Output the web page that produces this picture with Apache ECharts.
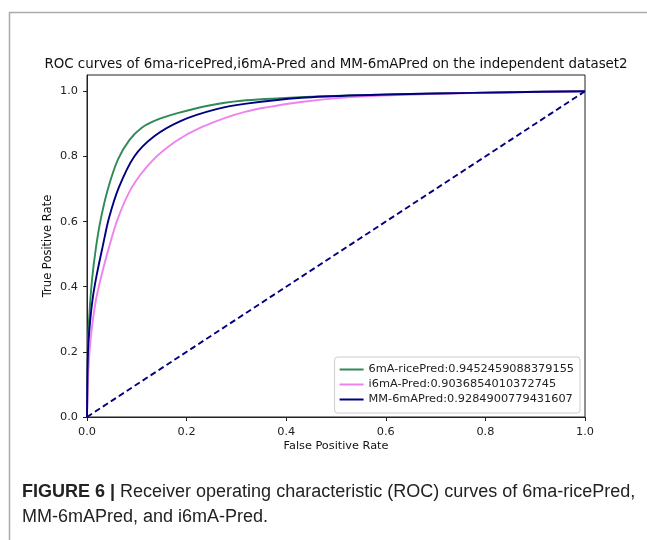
<!DOCTYPE html>
<html lang="en">
<head>
    <meta charset="UTF-8">
    <title>ROC curves</title>
    <script src="https://cdn.jsdelivr.net/npm/echarts@6.0.0/dist/echarts.min.js"></script>
    <style type="text/css">
        *{margin: 0;padding: 0;border: none}
        html,body{width: 100%;height: 100%;overflow: hidden;background: #fff}
        #main{width: 647px;height: 540px}
    </style>
</head>
<body>
<div id="main"></div>
<script type="text/javascript">
    // ROC points [fpr, tpr]
    var ricePred = [[0,0],[0.002,0.22],[0.005,0.32],[0.01,0.42],[0.018,0.52],[0.028,0.61],[0.042,0.7],[0.062,0.79],
        [0.085,0.85],[0.11,0.888],[0.14,0.912],[0.18,0.932],[0.24,0.955],[0.31,0.971],[0.43,0.982],
        [0.55,0.988],[0.7,0.993],[0.85,0.997],[1,1]];
    var i6mAPred = [[0,0],[0.003,0.15],[0.008,0.25],[0.018,0.36],[0.03,0.44],[0.044,0.52],[0.062,0.61],[0.09,0.705],
        [0.13,0.785],[0.177,0.845],[0.23,0.89],[0.317,0.937],[0.43,0.967],[0.53,0.982],[0.7,0.992],[0.85,0.997],[1,1]];
    var mm6mAPred = [[0,0],[0.002,0.2],[0.006,0.29],[0.012,0.37],[0.02,0.44],[0.031,0.52],[0.044,0.61],[0.064,0.705],
        [0.095,0.8],[0.135,0.862],[0.19,0.91],[0.26,0.945],[0.32,0.962],[0.43,0.98],[0.55,0.988],[0.7,0.993],[0.85,0.997],[1,1]];
    var chance = [[0,0],[1,1]];
    var seriesNames = ['6mA-ricePred:0.9452459088379155', 'i6mA-Pred:0.9036854010372745', 'MM-6mAPred:0.9284900779431607'];
    var tickValues = [0, 0.2, 0.4, 0.6, 0.8, 1.0];

    var myChart = echarts.init(document.getElementById('main'));
    var font = 'DejaVu Sans';
    var option = {
        backgroundColor: '#fff',
        animation: false,
        title: {
            text: 'ROC curves of 6ma-ricePred,i6mA-Pred and MM-6mAPred on the independent dataset2',
            left: 331,
            textAlign: 'center',
            top: 53,
            textStyle: {fontFamily: font, fontSize: 13.4, fontWeight: 'normal', color: '#111'}
        },
        legend: {
            orient: 'vertical',
            right: 67,
            top: 357,
            itemWidth: 24,
            itemHeight: 2,
            itemGap: 4,
            padding: [7, 6, 8, 5],
            borderColor: '#ccc',
            borderWidth: 1,
            borderRadius: 3,
            backgroundColor: 'rgba(255,255,255,0.8)',
            icon: 'rect',
            textStyle: {fontFamily: font, fontSize: 11.3, color: '#222'},
            data: seriesNames
        },
        grid: {
            left: 87, right: 62, top: 75, bottom: 123,
            show: true, borderColor: '#222', borderWidth: 1
        },
        xAxis: {
            type: 'value', min: 0, max: 1,
            name: 'False Positive Rate', nameLocation: 'middle', nameGap: 24, nameMoveOverlap: false,
            nameTextStyle: {fontFamily: font, fontSize: 11.3, color: '#111'},
            axisLine: {show: true, lineStyle: {color: '#222'}},
            axisTick: {show: true, length: 4, lineStyle: {color: '#222'}, customValues: tickValues},
            axisLabel: {fontFamily: font, fontSize: 11.3, color: '#222', margin: 10, customValues: tickValues,
                formatter: function (v) { return v.toFixed(1); }},
            splitLine: {show: false}
        },
        yAxis: {
            type: 'value', min: 0, max: 1.05,
            name: 'True Positive Rate', nameLocation: 'middle', nameGap: 33, nameMoveOverlap: false,
            nameTextStyle: {fontFamily: font, fontSize: 11.5, color: '#111'},
            axisLine: {show: true, lineStyle: {color: '#222'}},
            axisTick: {show: true, length: 4, lineStyle: {color: '#222'}, customValues: tickValues},
            axisLabel: {fontFamily: font, fontSize: 11.3, color: '#222', margin: 9, customValues: tickValues,
                formatter: function (v) { return v.toFixed(1); }},
            splitLine: {show: false}
        },
        series: [
            {
                name: seriesNames[0], type: 'line', data: ricePred, showSymbol: false, smooth: 0.3,
                lineStyle: {color: '#2e8b57', width: 1.9}, itemStyle: {color: '#2e8b57'}
            },
            {
                name: seriesNames[1], type: 'line', data: i6mAPred, showSymbol: false, smooth: 0.3,
                lineStyle: {color: '#ee82ee', width: 1.9}, itemStyle: {color: '#ee82ee'}
            },
            {
                name: seriesNames[2], type: 'line', data: mm6mAPred, showSymbol: false, smooth: 0.3,
                lineStyle: {color: '#000080', width: 1.9}, itemStyle: {color: '#000080'}
            },
            {
                name: 'chance', type: 'line', data: chance, showSymbol: false,
                lineStyle: {color: '#000080', width: 1.9, type: [6, 3.5]}
            }
        ],
        graphic: [
            {
                type: 'rect', left: 7, top: 10, silent: true,
                shape: {width: 660, height: 560},
                style: {fill: 'none', stroke: '#aaa', lineWidth: 1.5}
            },
            {
                type: 'text', left: 22, top: 480,
                style: {
                    text: '{b|FIGURE 6 |} Receiver operating characteristic (ROC) curves of 6ma-ricePred,\nMM-6mAPred, and i6mA-Pred.',
                    font: '18px "Liberation Sans"', fill: '#222', lineHeight: 25,
                    rich: {b: {fontWeight: 'bold', fontSize: 18, fontFamily: 'Liberation Sans', fill: '#222'}}
                }
            }
        ]
    };
    myChart.setOption(option);
</script>
</body>
</html>
